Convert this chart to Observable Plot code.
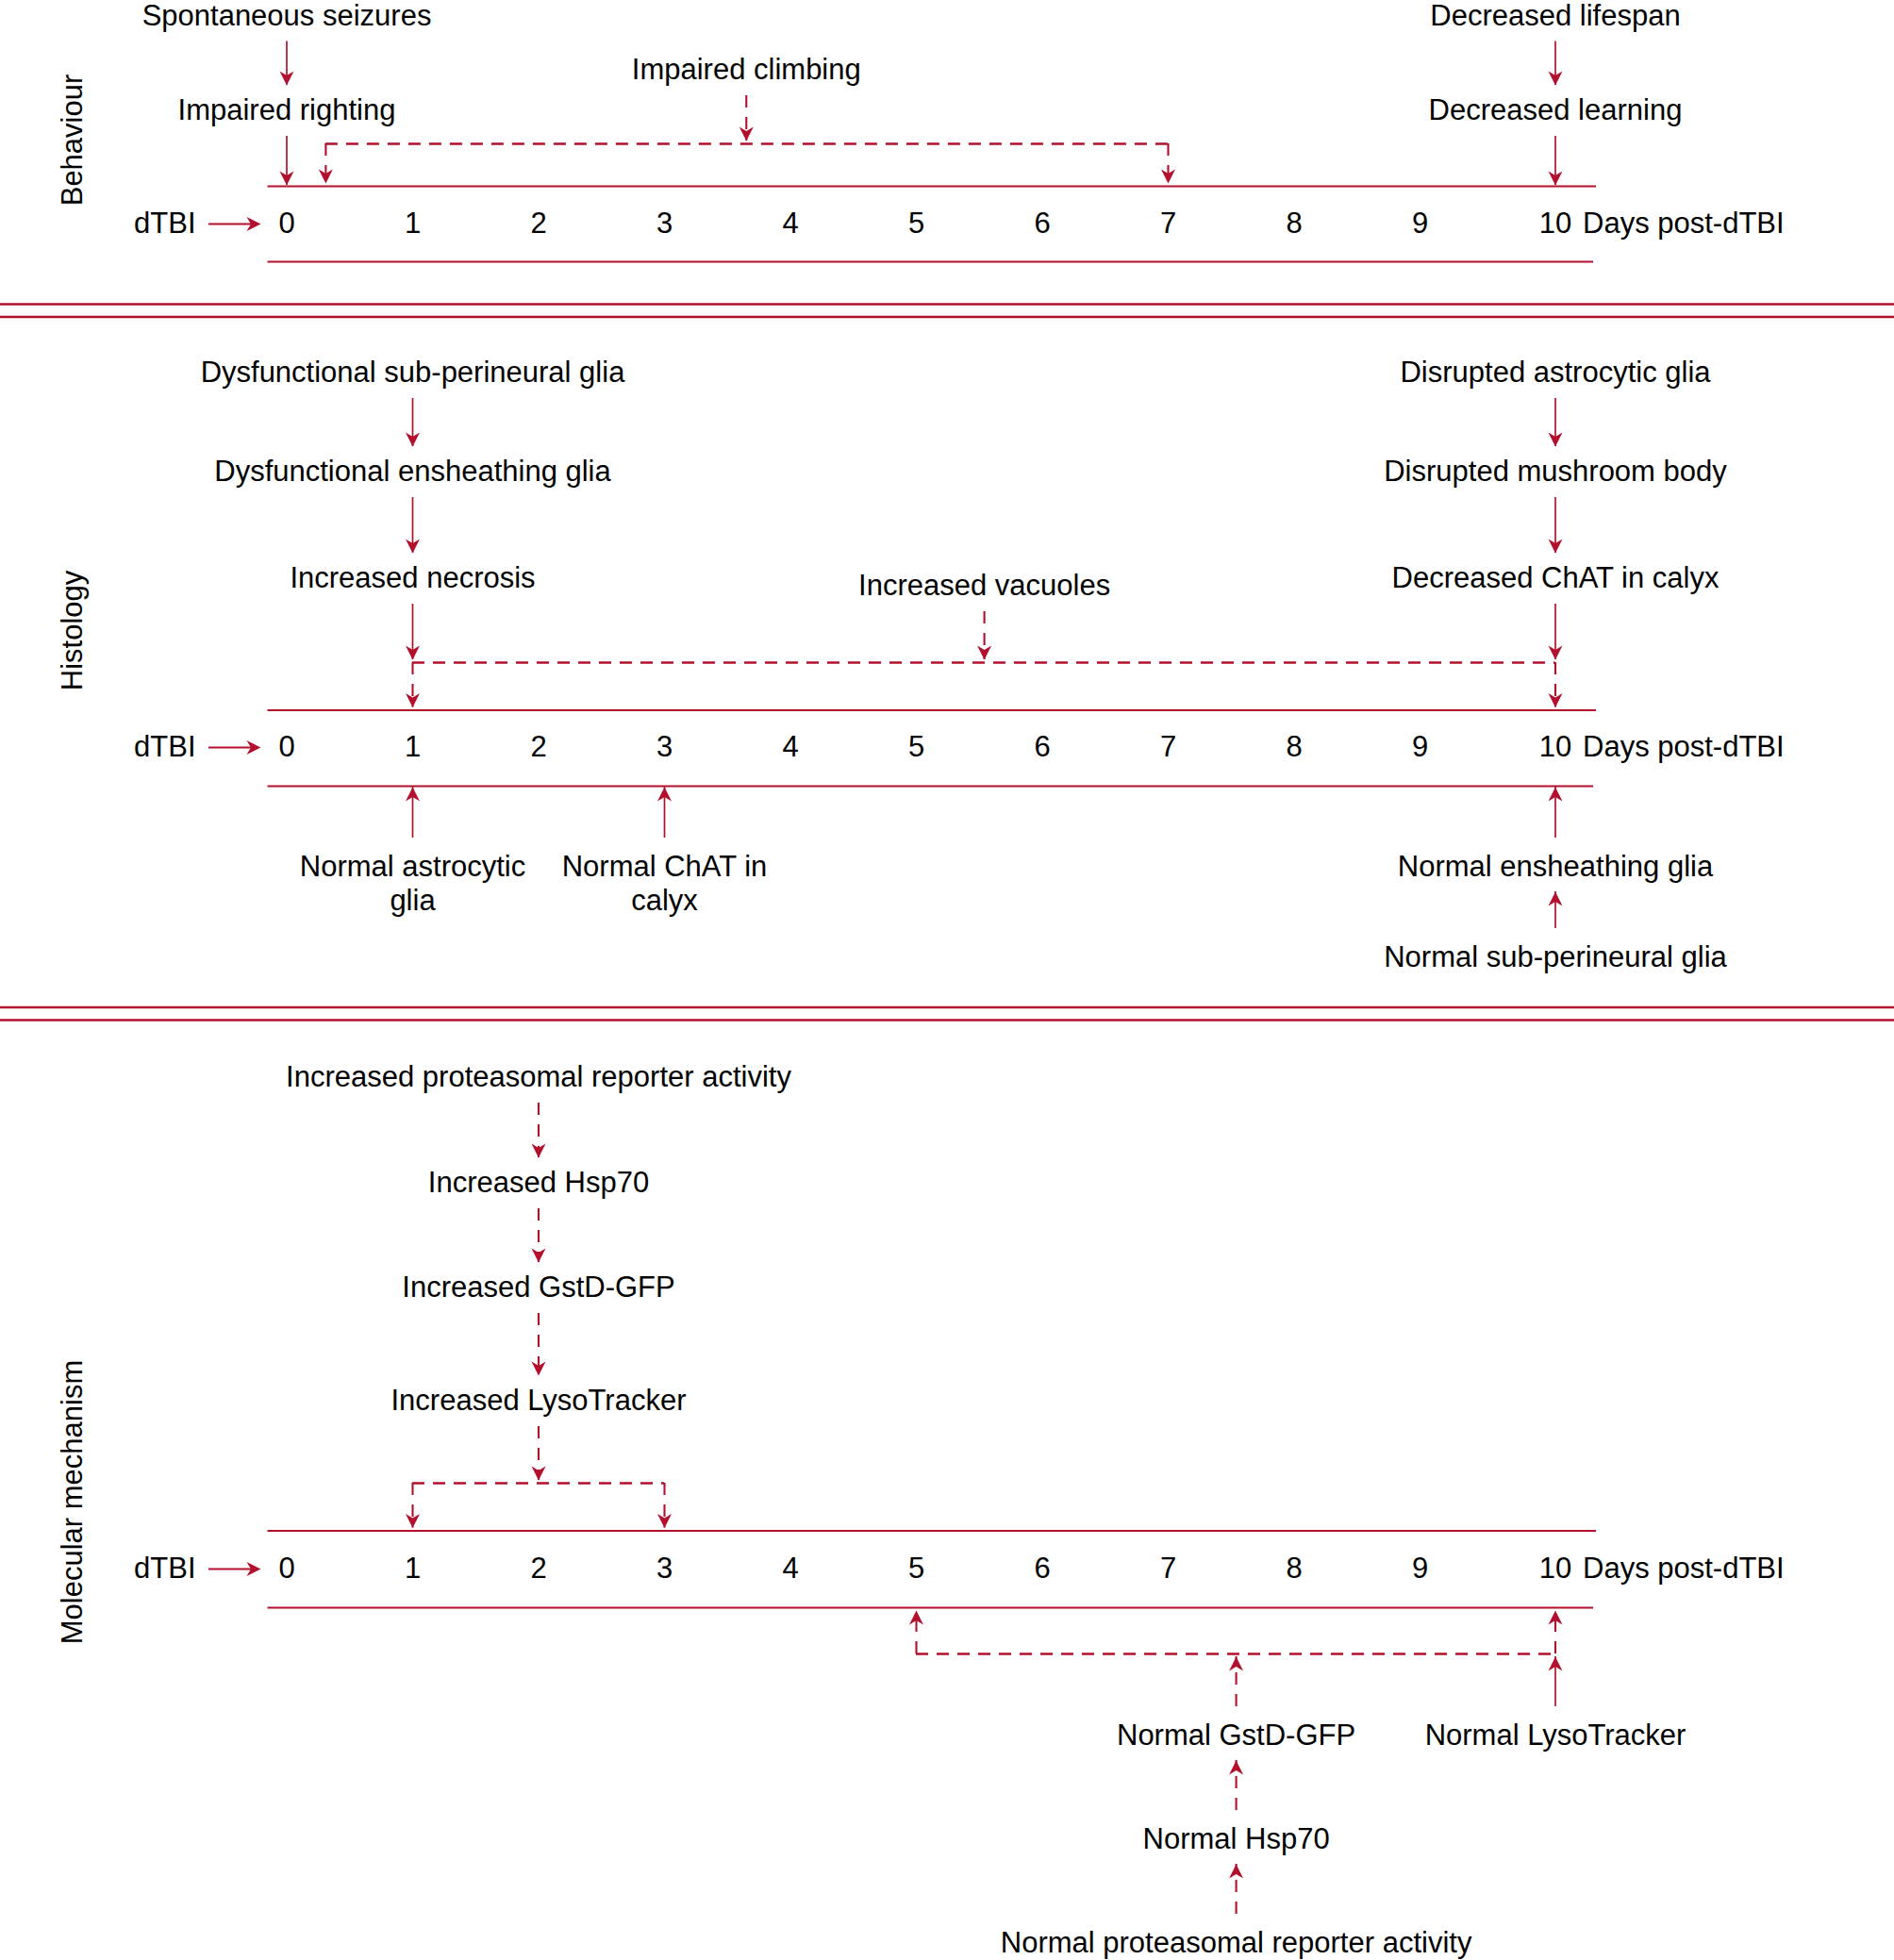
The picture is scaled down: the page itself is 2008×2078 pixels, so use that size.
<!DOCTYPE html>
<html>
<head>
<meta charset="utf-8">
<script src="https://cdn.jsdelivr.net/npm/d3@7"></script>
<script src="https://cdn.jsdelivr.net/npm/@observablehq/plot@0.6"></script>
<style>
  html, body { margin: 0; padding: 0; background: #fff; }
  svg { display: block; }
</style>
</head>
<body>
<div id="chart"></div>
<script>
// ---------------- DATA ----------------
const days = [0, 1, 2, 3, 4, 5, 6, 7, 8, 9, 10];
const dayUnit = "Days post-dTBI";
const injury = "dTBI";
const sections = ["Behaviour", "Histology", "Molecular mechanism"];

// Behaviour events (row > 0: above the time line, row < 0: below)
const behaviourEvents = ["Spontaneous seizures", "Impaired righting", "Impaired climbing", "Decreased lifespan", "Decreased learning"];
const behaviourDays   = [0, 0, 3.65, 10, 10];
const behaviourRows   = [3, 1, 2, 3, 1];

// Histology events
const histologyEvents = [
  "Dysfunctional sub-perineural glia", "Dysfunctional ensheathing glia", "Increased necrosis",
  "Increased vacuoles",
  "Disrupted astrocytic glia", "Disrupted mushroom body", "Decreased ChAT in calyx",
  "Normal astrocytic\nglia", "Normal ChAT in\ncalyx", "Normal ensheathing glia", "Normal sub-perineural glia"
];
const histologyDays = [1, 1, 1, 5.54, 10, 10, 10, 1, 3, 10, 10];
const histologyRows = [3, 2, 1, 1.1, 3, 2, 1, -1, -1, -1, -2];

// Molecular mechanism events
const molecularEvents = [
  "Increased proteasomal reporter activity", "Increased Hsp70", "Increased GstD-GFP", "Increased LysoTracker",
  "Normal GstD-GFP", "Normal LysoTracker", "Normal Hsp70", "Normal proteasomal reporter activity"
];
const molecularDays = [2, 2, 2, 2, 7.54, 10, 7.54, 7.54];
const molecularRows = [4, 3, 2, 1, -1, -1, -2, -3];

// Links between events ("axis" = the time line, "bracket" = the dashed span)
const linkFrom = [
  "Spontaneous seizures", "Impaired righting", "Impaired climbing", "Decreased lifespan", "Decreased learning",
  "Dysfunctional sub-perineural glia", "Dysfunctional ensheathing glia", "Increased necrosis", "Increased vacuoles",
  "Disrupted astrocytic glia", "Disrupted mushroom body", "Decreased ChAT in calyx",
  "Normal astrocytic\nglia", "Normal ChAT in\ncalyx", "Normal ensheathing glia", "Normal sub-perineural glia",
  "Increased proteasomal reporter activity", "Increased Hsp70", "Increased GstD-GFP", "Increased LysoTracker",
  "Normal GstD-GFP", "Normal LysoTracker", "Normal Hsp70", "Normal proteasomal reporter activity"
];
const linkTo = [
  "Impaired righting", "axis", "bracket", "Decreased learning", "axis",
  "Dysfunctional ensheathing glia", "Increased necrosis", "bracket", "bracket",
  "Disrupted mushroom body", "Decreased ChAT in calyx", "bracket",
  "axis", "axis", "axis", "Normal ensheathing glia",
  "Increased Hsp70", "Increased GstD-GFP", "Increased LysoTracker", "bracket",
  "bracket", "bracket", "Normal GstD-GFP", "Normal Hsp70"
];
const linkDashed = [
  false, false, true, false, false,
  false, false, false, true,
  false, false, false,
  false, false, false, false,
  true, true, true, true,
  true, false, true, true
];

// Dashed spans (time windows)
const bracketSections = ["Behaviour", "Histology", "Molecular mechanism", "Molecular mechanism"];
const bracketStarts   = [0.31, 1, 1, 5];
const bracketEnds     = [7, 10, 3, 10];
const bracketSides    = ["above", "above", "above", "below"];

// ---------------- LAYOUT (pixels) ----------------
const W = 2008, H = 2078;
const XD = [0, 9, 10];              // piecewise day positions (day 10 sits a little further out)
const XR = [303.5, 1505, 1648.5];
const xPx = d3.scaleLinear().domain(XD).range(XR);
const RED = "#b3102e";
const FONT = 31;
const LH = 1.16;
const LAYOUT = {
  "Behaviour": {top: 197, ticks: 237, bottom: 277, bracketAbove: 152, label: 148,
    rows: {3: 14.6, 2: 72, 1: 115}},
  "Histology": {top: 752.5, ticks: 792, bottom: 833, bracketAbove: 702, label: 668,
    rows: {3: 393, 2: 498, 1: 611, 1.1: 619, "-1": 917, "-2": 1013}},
  "Molecular mechanism": {top: 1622.5, ticks: 1663, bottom: 1704, bracketAbove: 1572, bracketBelow: 1753, label: 1592,
    rows: {4: 1140, 3: 1252, 2: 1363, 1: 1483, "-1": 1838, "-2": 1948, "-3": 2058}}
};
const SEPARATORS = [322, 335.5, 1067.5, 1081];
const GAP = {tailDown: 29, headDown: 25, tailUp: 29, headUp: 28, axis: 1, bracket: 3, drop: 3};
const AXIS_PX = {left: 283.5, rightTop: 1692, rightBottom: 1689};
const INJ_PX = {textEnd: 207, arrowFrom: 221, arrowTo: 276};
const UNIT_DX = 29;

// ---------------- BUILD ----------------
const events = [];
[[behaviourEvents, behaviourDays, behaviourRows, sections[0]],
 [histologyEvents, histologyDays, histologyRows, sections[1]],
 [molecularEvents, molecularDays, molecularRows, sections[2]]].forEach(([L, D, R, s]) =>
  L.forEach((label, i) => events.push({label, day: D[i], row: R[i], section: s})));
const byLabel = new Map(events.map(e => [e.label, e]));
const rowY = e => LAYOUT[e.section].rows[e.row];

const brackets = bracketSections.map((s, i) => ({
  section: s, start: bracketStarts[i], end: bracketEnds[i], side: bracketSides[i],
  y: bracketSides[i] === "above" ? LAYOUT[s].bracketAbove : LAYOUT[s].bracketBelow
}));

const arrows = linkFrom.map((f, i) => {
  const a = byLabel.get(f);
  const L = LAYOUT[a.section];
  const down = a.row > 0;
  const t = linkTo[i];
  const y0 = rowY(a) + (down ? GAP.tailDown : -GAP.tailUp);
  let y1;
  if (t === "axis") y1 = down ? L.top - GAP.axis : L.bottom + GAP.axis;
  else if (t === "bracket") y1 = down ? L.bracketAbove - GAP.bracket : L.bracketBelow + GAP.bracket;
  else { const b = byLabel.get(t); y1 = down ? rowY(b) - GAP.headDown : rowY(b) + GAP.headUp; }
  return {day: a.day, y0, y1, down, dashed: linkDashed[i]};
});
brackets.forEach(b => {
  const L = LAYOUT[b.section];
  const down = b.side === "above";
  for (const d of [b.start, b.end]) {
    arrows.push({day: d, y0: b.y, y1: down ? L.top - GAP.drop : L.bottom + GAP.drop, down, dashed: true});
  }
});

const tickRows = sections.flatMap(s => days.map(d => ({section: s, day: d})));
const heads = arrows.map(a => ({day: a.day, y: a.y1, rotate: a.down ? 180 : 0}))
  .concat(sections.map(s => ({day: xPx.invert(INJ_PX.arrowTo), y: LAYOUT[s].ticks, rotate: 90})));

// Notched (stealth) arrow head, tip at the origin, pointing up
const arrowHead = {
  draw(context) {
    context.moveTo(0, 0);
    context.lineTo(7.5, 15);
    context.lineTo(0, 10.5);
    context.lineTo(-7.5, 15);
    context.closePath();
  }
};

const nLines = s => s.split("\n").length;

const chart = Plot.plot({
  width: W,
  height: H,
  margin: 0,
  x: {type: "linear", domain: XD, range: XR, axis: null},
  y: {type: "linear", domain: [0, H], range: [0, H], axis: null},
  style: {fontFamily: '"Liberation Sans", Arial, Helvetica, sans-serif', fontSize: FONT + "px", background: "#fff", color: "#000"},
  marks: [
    // section separators (double lines)
    Plot.ruleY(SEPARATORS, {y: d => d, stroke: RED, strokeWidth: 2.6}),
    // time lines
    Plot.ruleY(sections, {y: s => LAYOUT[s].top, x1: xPx.invert(AXIS_PX.left), x2: xPx.invert(AXIS_PX.rightTop), stroke: RED, strokeWidth: 2.2}),
    Plot.ruleY(sections, {y: s => LAYOUT[s].bottom, x1: xPx.invert(AXIS_PX.left), x2: xPx.invert(AXIS_PX.rightBottom), stroke: RED, strokeWidth: 2.2}),
    // dashed spans
    Plot.ruleY(brackets, {y: "y", x1: "start", x2: "end", stroke: RED, strokeWidth: 2.4, strokeDasharray: "13,9"}),
    // arrow stems
    Plot.ruleX(arrows.filter(a => !a.dashed), {x: "day", y1: "y0", y2: "y1", stroke: RED, strokeWidth: 1.7}),
    Plot.ruleX(arrows.filter(a => a.dashed), {x: "day", y1: "y0", y2: "y1", stroke: RED, strokeWidth: 2.1, strokeDasharray: "13,10"}),
    // injury arrow
    Plot.ruleY(sections, {y: s => LAYOUT[s].ticks, x1: xPx.invert(INJ_PX.arrowFrom), x2: xPx.invert(INJ_PX.arrowTo - 6), stroke: RED, strokeWidth: 2}),
    // arrow heads
    Plot.dot(heads, {x: "day", y: "y", rotate: "rotate", symbol: arrowHead, r: 7, fill: RED, stroke: "none"}),
    // day ticks
    Plot.text(tickRows, {x: "day", y: d => LAYOUT[d.section].ticks, text: d => String(d.day), fontSize: FONT, fill: "#000"}),
    Plot.text(sections, {x: 10, y: s => LAYOUT[s].ticks, text: () => dayUnit, dx: UNIT_DX, textAnchor: "start", fontSize: FONT, fill: "#000"}),
    Plot.text(sections, {x: xPx.invert(INJ_PX.textEnd), y: s => LAYOUT[s].ticks, text: () => injury, textAnchor: "end", fontSize: FONT, fill: "#000"}),
    // events
    Plot.text(events, {x: "day", y: e => rowY(e) + (nLines(e.label) - 1) * LH * FONT / 2, text: "label", lineHeight: LH, fontSize: FONT, fill: "#000"}),
    // section titles
    Plot.text(sections, {y: s => LAYOUT[s].label, text: d => d, frameAnchor: "left", textAnchor: "middle", dx: 77, rotate: -90, fontSize: FONT, fill: "#000"})
  ]
});

document.getElementById("chart").appendChild(chart);
</script>
</body>
</html>
